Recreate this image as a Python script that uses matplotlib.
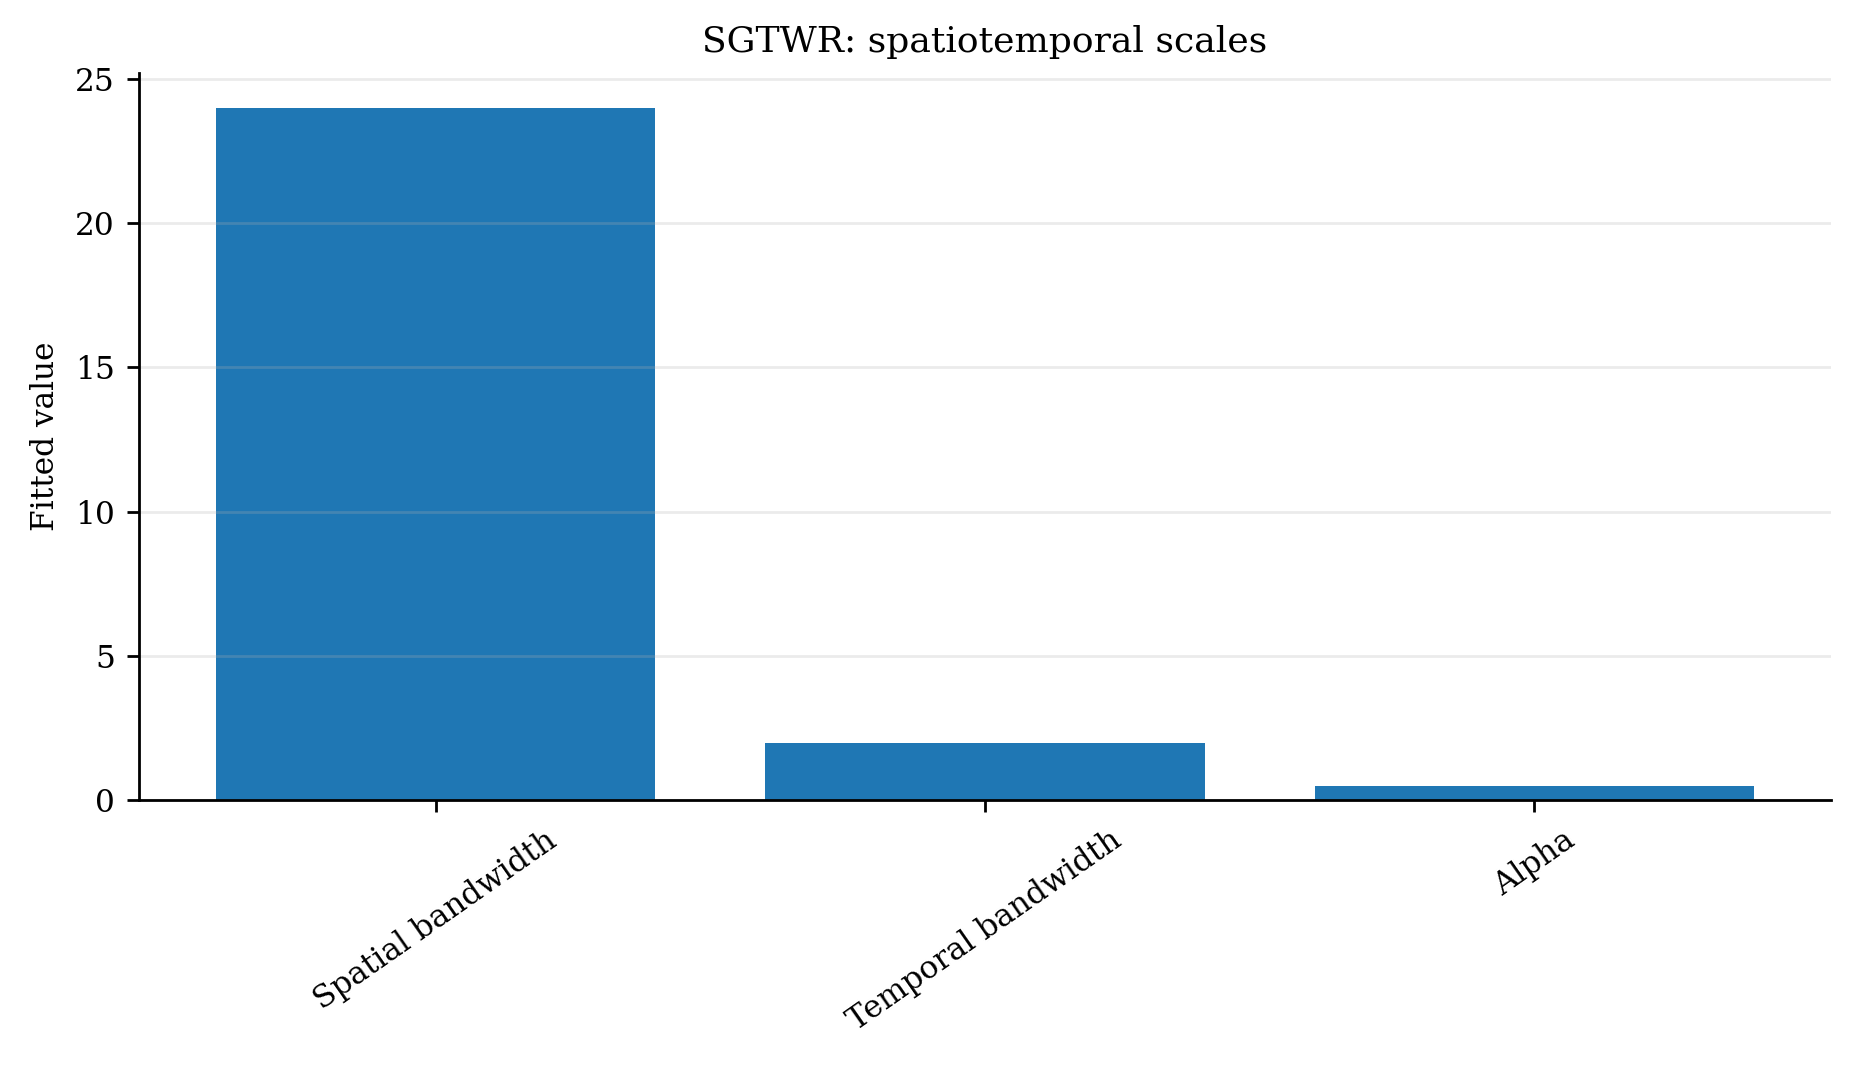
import matplotlib.pyplot as plt

# parameter names and fitted values
params = ["Spatial bandwidth", "Temporal bandwidth", "Alpha"]
values = [24, 2, 0.5]

plt.rcParams['font.family'] = ['DejaVu Serif']
plt.rcParams['font.size'] = 9

fig, ax = plt.subplots(figsize=(1855 / 250, 1073 / 250), dpi=250)
fig.subplots_adjust(left=0.075, right=0.987, top=0.932, bottom=0.254)

ax.bar(params, values, color="#1f77b4", width=0.8)
ax.set_title("SGTWR: spatiotemporal scales", fontsize=10.4)
ax.set_ylabel("Fitted value")
plt.setp(ax.get_xticklabels(), rotation=35)

ax.grid(axis='y', alpha=0.25)
ax.spines['top'].set_visible(False)
ax.spines['right'].set_visible(False)

fig.savefig("out.png", dpi=250)
